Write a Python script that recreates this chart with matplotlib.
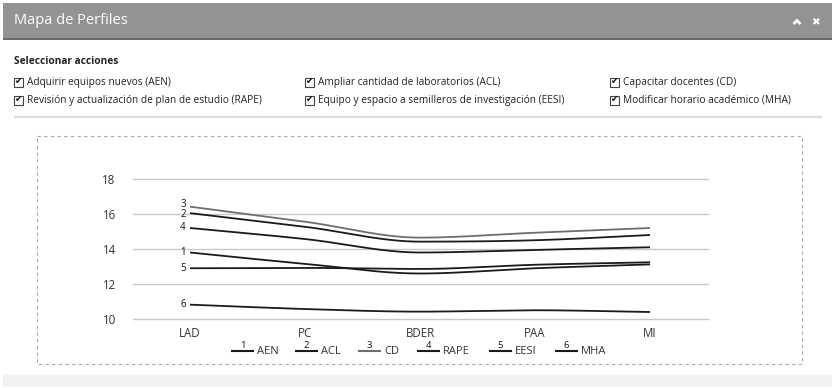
import numpy as np
import matplotlib
matplotlib.use("Agg")
import matplotlib.pyplot as plt
from matplotlib.patches import Rectangle
from matplotlib.lines import Line2D

plt.rcParams['font.family'] = ['Open Sans', 'DejaVu Sans']

# ---------------- data ----------------
categories = ["LAD", "PC", "BDER", "PAA", "MI"]
series_codes = ["AEN", "ACL", "CD", "RAPE", "EESI", "MHA"]
series_numbers = ["1", "2", "3", "4", "5", "6"]
aen = [13.8, 13.15, 12.6, 12.9, 13.12]
acl = [16.05, 15.27, 14.42, 14.5, 14.8]
cd = [16.42, 15.56, 14.65, 14.93, 15.2]
rape = [15.2, 14.57, 13.8, 13.95, 14.1]
eesi = [12.9, 12.92, 12.86, 13.1, 13.24]
mha = [10.82, 10.57, 10.42, 10.5, 10.4]
series_values = [aen, acl, cd, rape, eesi, mha]
y_ticks = [10, 12, 14, 16, 18]

actions = [
    "Adquirir equipos nuevos (AEN)",
    "Ampliar cantidad de laboratorios (ACL)",
    "Capacitar docentes (CD)",
    "Revisión y actualización de plan de estudio (RAPE)",
    "Equipo y espacio a semilleros de investigación (EESI)",
    "Modificar horario académico (MHA)",
]
title = "Mapa de Perfiles"
subtitle = "Seleccionar acciones"

series_colors = ["#1a1a1a", "#1a1a1a", "#6e6e6e", "#1a1a1a", "#1a1a1a", "#1a1a1a"]
label_nudge = [0, -1.0, 1.5, 0, 0, 0]  # points, to keep the start labels apart

W, H = 838, 388
fig = plt.figure(figsize=(W / 100, H / 100), dpi=100)
fig.patch.set_facecolor("white")

# ---------------- page decoration (pixel coordinates) ----------------
bg = fig.add_axes([0, 0, 1, 1])
bg.set_xlim(0, W)
bg.set_ylim(H, 0)
bg.axis("off")

# header bar
bg.add_patch(Rectangle((3, 3), 829, 36, facecolor="#939393", edgecolor="none"))
bg.add_patch(Rectangle((3, 38), 829, 2, facecolor="#6a6a6a", edgecolor="none"))
bg.text(14, 21, title, color="white", fontsize=10.5, va="center", ha="left")
bg.plot([793.5, 797, 800.5], [24, 20.5, 24], color="white", lw=2.0, solid_capstyle="butt",
        solid_joinstyle="miter")
bg.text(815, 22, "✖", color="white", fontsize=7.5, va="center", ha="center", family=["DejaVu Sans"])

bg.text(14, 62, subtitle, fontsize=7.3, fontweight="bold", va="center", ha="left", color="#222222")

col_x = [14, 305, 610]
row_y = [82, 100]
for i, label in enumerate(actions):
    cx = col_x[i % 3]
    cy = row_y[i // 3]
    bg.add_patch(Rectangle((cx, cy - 4.5), 9, 9, facecolor="white", edgecolor="#444444", lw=0.8))
    bg.text(cx + 4.8, cy - 0.3, "✔", fontsize=6.5, va="center", ha="center", color="#111111",
            family=["DejaVu Sans"])
    bg.text(cx + 13, cy, label, fontsize=7.3, va="center", ha="left", color="#222222")

# separator
bg.plot([14, 822], [117, 117], color="#dcdcdc", lw=1.6, solid_capstyle="butt")

# dashed chart frame
bg.add_patch(Rectangle((36.5, 135.5), 765, 228, facecolor="none", edgecolor="#a8a8a8",
                       lw=0.8, linestyle=(0, (3, 3))))

# bottom strip
bg.add_patch(Rectangle((3, 375), 829, 12, facecolor="#f2f2f2", edgecolor="none"))

# ---------------- chart ----------------
x_left_px, x_right_px = 132.5, 707.5
y_top_px, y_bot_px = 179, 319
ax = fig.add_axes([x_left_px / W, (H - y_bot_px) / H, (x_right_px - x_left_px) / W,
                   (y_bot_px - y_top_px) / H])
ax.patch.set_alpha(0)
ax.set_xlim(-0.5, len(categories) - 0.5)
ax.set_ylim(10, 18)
for s in ax.spines.values():
    s.set_visible(False)
ax.set_yticks(y_ticks)
ax.set_yticklabels([str(v) for v in y_ticks])
ax.set_xticks(range(len(categories)))
ax.set_xticklabels(categories)
ax.tick_params(axis="both", length=0, labelsize=8.3, colors="#333333")
ax.tick_params(axis="y", pad=12)
ax.tick_params(axis="x", pad=6)
for v in y_ticks:
    ax.axhline(v, color="#c8c8c8", lw=1.0, zorder=1, clip_on=False)


def monotone_smooth(xs, ys, n=40):
    xs = np.asarray(xs, float)
    ys = np.asarray(ys, float)
    h = np.diff(xs)
    d = np.diff(ys) / h
    m = np.zeros_like(ys)
    m[0], m[-1] = d[0], d[-1]
    for k in range(1, len(ys) - 1):
        if d[k - 1] * d[k] <= 0:
            m[k] = 0.0
        else:
            m[k] = (d[k - 1] + d[k]) / 2.0
    px, py = [], []
    for k in range(len(xs) - 1):
        t = np.linspace(0, 1, n, endpoint=(k == len(xs) - 2))
        h00 = 2 * t**3 - 3 * t**2 + 1
        h10 = t**3 - 2 * t**2 + t
        h01 = -2 * t**3 + 3 * t**2
        h11 = t**3 - t**2
        px.append(xs[k] + t * h[k])
        py.append(h00 * ys[k] + h10 * h[k] * m[k] + h01 * ys[k + 1] + h11 * h[k] * m[k + 1])
    return np.concatenate(px), np.concatenate(py)


xs = np.arange(len(categories))
for vals, num, col, nud in zip(series_values, series_numbers, series_colors, label_nudge):
    sx, sy = monotone_smooth(xs, vals)
    ax.plot(sx, sy, color=col, lw=1.3, zorder=3, solid_capstyle="butt")
    ax.annotate(num, (xs[0], vals[0]), xytext=(-3, nud), textcoords="offset points",
                ha="right", va="center", fontsize=7, color="#111111")

# legend (manual, pixel coordinates)
leg_line_x = [232, 296, 359, 418, 490, 556]
for lx, num, code, col in zip(leg_line_x, series_numbers, series_codes, series_colors):
    bg.add_line(Line2D([lx, lx + 21], [351, 351], color=col, lw=1.5))
    bg.text(lx + 10.5, 349.5, num, fontsize=6.8, ha="center", va="bottom", color="#111111")
    bg.text(lx + 25, 351, code, fontsize=8, ha="left", va="center", color="#333333")

fig.savefig("out.png", dpi=100)
